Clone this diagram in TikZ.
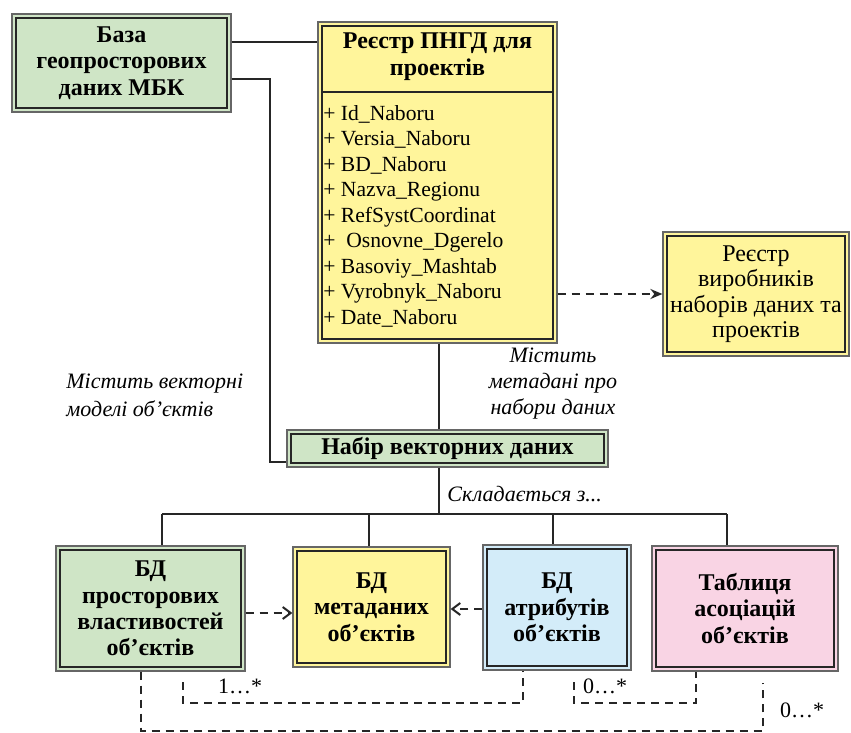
\documentclass[tikz,border=0pt]{standalone}
\usepackage{fontspec}
\setmainfont{Liberation Serif}
\usetikzlibrary{arrows.meta,positioning}

\definecolor{zelen}{HTML}{CFE5C6}
\definecolor{zhovt}{HTML}{FFF59B}
\definecolor{blakyt}{HTML}{D3ECF9}
\definecolor{rozh}{HTML}{F9D4E4}

\tikzset{
  dbox/.style={draw=black!60, line width=0.6pt, inner sep=0pt, align=center,
    font=\fontsize{12}{13.2}\selectfont\bfseries,
    path picture={\draw[line width=1.1pt, black!85]
      ([shift={(2pt,-2pt)}]path picture bounding box.north west) rectangle
      ([shift={(-2pt,2pt)}]path picture bounding box.south east);}},
  zv/.style={line width=1.4pt, black!85},
  pk/.style={line width=1pt, black!85, dash pattern=on 4pt off 3pt},
  napys/.style={font=\fontsize{11}{14}\selectfont\itshape, align=center, inner sep=0pt},
  atr/.style={font=\fontsize{10.8}{12}\selectfont, inner sep=0pt, anchor=base west},
  krat/.style={font=\fontsize{11}{12}\selectfont, inner sep=0pt},
}

\begin{document}
\begin{tikzpicture}[x=0.5pt, y=-0.5pt]
  \useasboundingbox (0,0) rectangle (851,733);

  % verkhnia chastyna
  \node[dbox, fill=zelen, minimum width=109.5pt, minimum height=49pt] (baza) at (121.5,63)
    {База\\геопросторових\\даних МБК};
  \node[dbox, fill=zhovt, minimum width=119.5pt, minimum height=160.5pt] (reg) at (437.5,182.5) {};
  \node[font=\fontsize{12}{13.5}\selectfont\bfseries, align=center, inner sep=0pt] (regT) at (437.5,57)
    {Реєстр ПНГД для\\проектів};
  \draw[line width=1.1pt, black!85] (321,92) -- (554,92);
  \foreach \t [count=\i] in {Id\_Naboru, Versia\_Naboru, BD\_Naboru, Nazva\_Regionu,
      RefSystCoordinat, \ Osnovne\_Dgerelo, Basoviy\_Mashtab, Vyrobnyk\_Naboru, Date\_Naboru}
    \node[atr] (atr\i) at (323,{94.5+25.5*\i}) {+ \t};
  \node[dbox, fill=zhovt, font=\fontsize{12}{12.7}\selectfont,
    minimum width=93pt, minimum height=62pt] (vyrob) at (756,294)
    {Реєстр\\виробників\\наборів даних та\\проектів};
  \node[dbox, fill=zelen, minimum width=160.5pt, minimum height=18.5pt] (nabir) at (447.5,448.5)
    {Набір векторних даних};

  % nyzhni bloky
  \node[dbox, fill=zelen, minimum width=94.5pt, minimum height=62.5pt] (bd1) at (150.5,608.5)
    {БД\\просторових\\властивостей\\об’єктів};
  \node[dbox, fill=zhovt, minimum width=78.5pt, minimum height=60pt] (bd2) at (371.5,607)
    {БД\\метаданих\\об’єктів};
  \node[dbox, fill=blakyt, minimum width=74pt, minimum height=62.5pt] (bd3) at (557,607.5)
    {БД\\атрибутів\\об’єктів};
  \node[dbox, fill=rozh, minimum width=93pt, minimum height=62.5pt] (bd4) at (745,608.5)
    {Таблиця\\асоціацій\\об’єктів};

  % napysy
  \node[napys, align=left, anchor=west] (mist1) at (66,395) {Містить векторні\\моделі об’єктів};
  \node[napys, font=\fontsize{11}{13}\selectfont\itshape] (mist2) at (553,384)
    {Містить\\метадані про\\набори даних};
  \node[napys, anchor=west] (sklad) at (447,494) {Складається з...};

  % zviazky
  \coordinate (povorot) at (270,462);
  \coordinate (shyna) at (439,514);
  \draw[zv] (baza.east |- 0,42) -- (reg.west |- 0,42);
  \draw[zv] (baza.east |- 0,79) -| (povorot) -- (nabir.west |- povorot);
  \draw[zv] (reg.south -| shyna) -- (nabir.north -| shyna);
  \draw[zv] (nabir.south -| shyna) -- (shyna);
  \draw[zv] (162,514) -- (727,514);
  \foreach \n/\x in {bd1/162, bd2/369, bd3/553, bd4/727}
    \draw[zv] (\x,514) -- (\n.north -| \x,0);
  \draw[pk, -{Stealth[length=6pt, width=5pt]}] (reg.east |- vyrob) -- (vyrob.west);
  \draw[pk, -{Straight Barb[length=4pt, width=6pt]}] (bd1.east |- 0,613) -- (bd2.west |- 0,613);
  \draw[pk, -{Straight Barb[length=4pt, width=6pt]}] (bd3.west |- 0,609) -- (bd2.east |- 0,609);

  % kratnosti
  \coordinate (k1) at (183,682);
  \coordinate (k2) at (574,682);
  \coordinate (k3) at (763,683);
  \draw[pk] (k1) |- (523,703) -- (bd3.south -| 523,0);
  \draw[pk] (k2) |- (696,703) -- (bd4.south -| 696,0);
  \draw[pk] (bd1.south -| 141,0) -- (141,731) -| (k3);
  \node[krat] (kr1) at (240,686) {1…*};
  \node[krat] (kr2) at (605,686) {0…*};
  \node[krat] (kr3) at (802,710) {0…*};
\end{tikzpicture}
\end{document}
